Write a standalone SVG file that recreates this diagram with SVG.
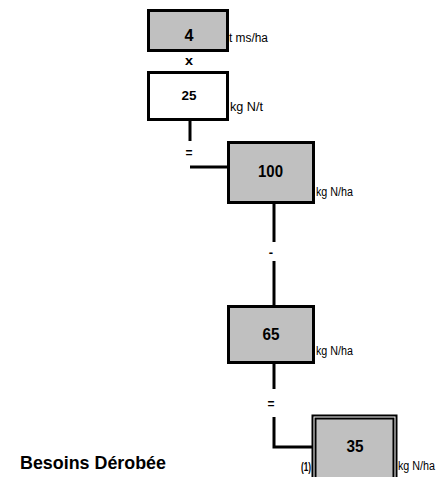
<svg xmlns="http://www.w3.org/2000/svg" width="438" height="477" viewBox="0 0 438 477">
<style>
.box{fill:#c0c0c0;stroke:#000;stroke-width:3}
.wbox{fill:#fff;stroke:#000;stroke-width:3}
.ln{fill:none;stroke:#000;stroke-width:3}
.val{font-family:"Liberation Sans",Arial,sans-serif;font-weight:bold;font-size:16px;text-anchor:middle;fill:#000}
.op{font-family:"Liberation Sans",Arial,sans-serif;font-weight:bold;font-size:13px;text-anchor:middle;fill:#000}
.unit{font-family:"Liberation Sans",Arial,sans-serif;font-size:12.5px;fill:#000}
</style>
<rect width="438" height="477" fill="#fff"/>
<g id="connectors">
<line class="ln" x1="190" y1="121" x2="190" y2="141"/>
<polyline class="ln" points="190,167 228,167"/>
<line class="ln" x1="274" y1="203" x2="274" y2="242"/>
<line class="ln" x1="274" y1="261" x2="274" y2="306"/>
<line class="ln" x1="274" y1="363" x2="274" y2="389"/>
<polyline class="ln" points="274,417 274,447 312,447"/>
<text class="op" x="189" y="65" textLength="8" lengthAdjust="spacingAndGlyphs">x</text>
<text class="op" x="189" y="157" textLength="7" lengthAdjust="spacingAndGlyphs">=</text>
<text class="op" x="271" y="257">-</text>
<text class="op" x="271" y="408" textLength="7" lengthAdjust="spacingAndGlyphs">=</text>
</g>
<g id="n4">
<rect class="box" x="148.5" y="10.5" width="79" height="40"/>
<text class="val" x="189" y="41" textLength="9" lengthAdjust="spacingAndGlyphs">4</text>
<text class="unit" x="229" y="42" textLength="39" lengthAdjust="spacingAndGlyphs">t ms/ha</text>
</g>
<g id="n25">
<rect class="wbox" x="148.5" y="72.5" width="79" height="47"/>
<text class="val" x="189" y="100" style="font-size:13px" textLength="15" lengthAdjust="spacingAndGlyphs">25</text>
<text class="unit" x="230" y="111" textLength="33" lengthAdjust="spacingAndGlyphs">kg N/t</text>
</g>
<g id="n100">
<rect class="box" x="228.5" y="142.5" width="85" height="60"/>
<text class="val" x="270.5" y="177" textLength="25" lengthAdjust="spacingAndGlyphs">100</text>
<text class="unit" x="316" y="196" textLength="37" lengthAdjust="spacingAndGlyphs">kg N/ha</text>
</g>
<g id="n65">
<rect class="box" x="228.5" y="306.5" width="85" height="56"/>
<text class="val" x="271" y="340" textLength="17" lengthAdjust="spacingAndGlyphs">65</text>
<text class="unit" x="316" y="355" textLength="37" lengthAdjust="spacingAndGlyphs">kg N/ha</text>
</g>
<g id="n35">
<rect x="312.5" y="415.5" width="84" height="70" fill="#fff" stroke="#000" stroke-width="2"/>
<rect x="315.5" y="418.5" width="78" height="64" fill="#c0c0c0" stroke="#000" stroke-width="2"/>
<text class="val" x="355" y="452" textLength="17" lengthAdjust="spacingAndGlyphs">35</text>
<text class="unit" x="301" y="471" style="font-weight:bold;font-size:12px" textLength="10" lengthAdjust="spacingAndGlyphs">(1)</text>
<text class="unit" x="398" y="470" style="font-size:12px" textLength="37" lengthAdjust="spacingAndGlyphs">kg N/ha</text>
</g>
<g id="title">
<text x="20" y="469" font-family="Liberation Sans, Arial, sans-serif" font-weight="bold" font-size="19" textLength="146" lengthAdjust="spacingAndGlyphs">Besoins Dérobée</text>
</g>
</svg>
